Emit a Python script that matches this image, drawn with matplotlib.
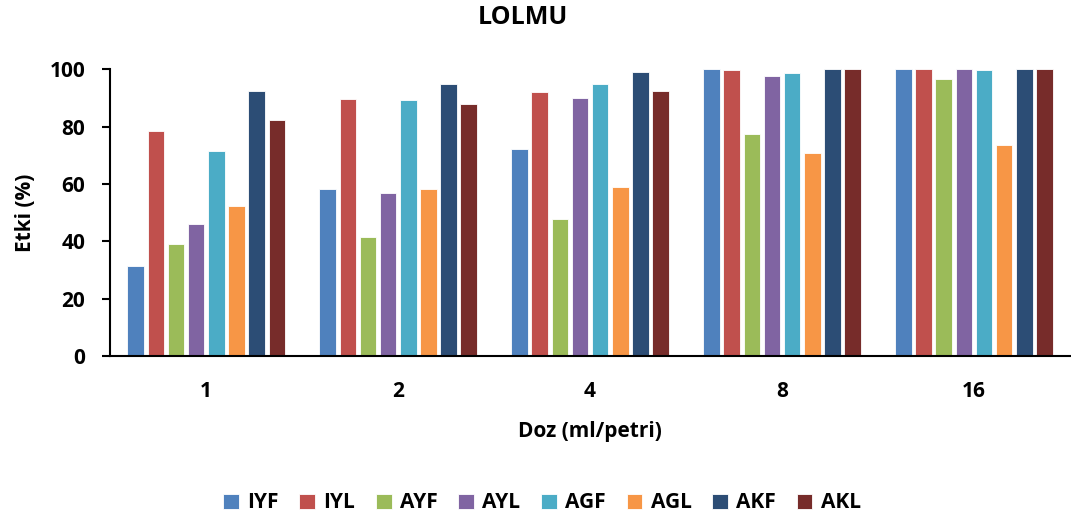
import numpy as np
import matplotlib.pyplot as plt

doses = ['1', '2', '4', '8', '16']
series = ['IYF', 'IYL', 'AYF', 'AYL', 'AGF', 'AGL', 'AKF', 'AKL']

IYF = [31.4, 58.1, 72.2, 100.0, 100.0]
IYL = [78.6, 89.8, 92.0, 99.6, 100.0]
AYF = [38.9, 41.3, 47.8, 77.4, 96.5]
AYL = [46.0, 56.7, 89.9, 97.7, 100.0]
AGF = [71.4, 89.3, 94.9, 98.7, 99.6]
AGL = [52.2, 58.1, 58.9, 70.9, 73.5]
AKF = [92.3, 94.9, 99.1, 100.0, 100.0]
AKL = [82.4, 88.0, 92.3, 100.0, 100.0]

colors = ['#4F81BD', '#C0504D', '#9BBB59', '#8064A2',
          '#4BACC6', '#F79646', '#2C4D75', '#772C2A']

plt.rcParams['font.family'] = ['Open Sans', 'DejaVu Sans']
plt.rcParams['font.weight'] = 'bold'

fig = plt.figure(figsize=(10.71, 5.21), dpi=100)
ax = fig.add_axes([0.103, 0.317, 0.896, 0.550])

data = [IYF, IYL, AYF, AYL, AGF, AGL, AKF, AKL]
x = np.arange(len(doses))
step = 0.105
width = 0.086
for i, (name, vals) in enumerate(zip(series, data)):
    offs = (i - 3.5) * step
    ax.bar(x + offs, vals, width, color=colors[i], label=name,
           edgecolor='white', linewidth=0.6)

ax.set_xlim(-0.5, 4.5)
ax.set_ylim(0, 100)
ax.set_yticks(range(0, 101, 20))
ax.set_xticks(x)
ax.set_xticklabels(doses)
ax.tick_params(axis='y', length=6, width=1.5, labelsize=15, pad=12)
ax.tick_params(axis='x', length=0, labelsize=15, pad=18)
for s in ['top', 'right']:
    ax.spines[s].set_visible(False)
ax.spines['left'].set_linewidth(1.5)
ax.spines['bottom'].set_linewidth(1.5)

fig.text(0.488, 1 - 18 / 521, 'LOLMU', fontsize=18, fontweight='bold',
         ha='center', va='center')
ax.set_ylabel('Etki (%)', fontsize=15, fontweight='bold', labelpad=10)
ax.set_xlabel('Doz (ml/petri)', fontsize=15, fontweight='bold', labelpad=14)

fig.legend(*ax.get_legend_handles_labels(), loc='center',
           bbox_to_anchor=(0.506, 1 - 503 / 521), ncol=8,
           frameon=False, fontsize=15, handlelength=0.75, handleheight=0.75,
           handletextpad=0.4, columnspacing=1.0)

fig.savefig('out.png', dpi=100)
